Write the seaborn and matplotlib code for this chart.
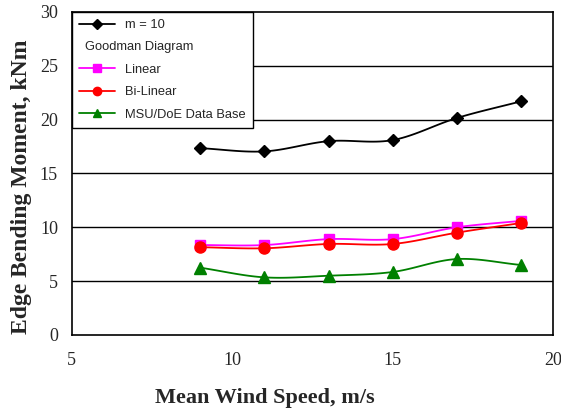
import numpy as np
import pandas as pd
import matplotlib
matplotlib.use("Agg")
import matplotlib.pyplot as plt
import seaborn as sns
from matplotlib.lines import Line2D

wind_speed = [9, 11, 13, 15, 17, 19]
m10 = [17.35, 17.05, 18.0, 18.1, 20.15, 21.7]
linear = [8.35, 8.35, 8.9, 8.9, 10.0, 10.6]
bilinear = [8.15, 8.05, 8.45, 8.45, 9.5, 10.4]
msu = [6.25, 5.35, 5.5, 5.85, 7.05, 6.5]

series_names = ["m = 10", "Linear", "Bi-Linear", "MSU/DoE Data Base"]
series_vals = [m10, linear, bilinear, msu]
colors = ["black", "#ff00ff", "#ff0000", "#008000"]
markers = ["D", "s", "o", "^"]
msizes = [6, 7, 8, 8]

sns.set_theme(style="white")


def catmull_rom(x, y, n=20):
    x = np.asarray(x, float)
    y = np.asarray(y, float)
    px = np.concatenate([[2 * x[0] - x[1]], x, [2 * x[-1] - x[-2]]])
    py = np.concatenate([[2 * y[0] - y[1]], y, [2 * y[-1] - y[-2]]])
    xs, ys = [], []
    for i in range(1, len(px) - 2):
        t = np.linspace(0, 1, n, endpoint=False)
        for P, out in ((px, xs), (py, ys)):
            p0, p1, p2, p3 = P[i - 1], P[i], P[i + 1], P[i + 2]
            out.extend(0.5 * ((2 * p1) + (-p0 + p2) * t
                              + (2 * p0 - 5 * p1 + 4 * p2 - p3) * t ** 2
                              + (-p0 + 3 * p1 - 3 * p2 + p3) * t ** 3))
    xs.append(x[-1]); ys.append(y[-1])
    return np.array(xs), np.array(ys)


fig = plt.figure(figsize=(5.61, 4.13), dpi=100)
ax = fig.add_axes([0.128, 0.189, 0.858, 0.782])

for name, vals, c, mk, ms in zip(series_names, series_vals, colors, markers, msizes):
    sx, sy = catmull_rom(wind_speed, vals)
    df_s = pd.DataFrame({"x": sx, "y": sy})
    sns.lineplot(data=df_s, x="x", y="y", ax=ax, color=c, lw=1.3, sort=False,
                 estimator=None, zorder=3)
    df = pd.DataFrame({"x": wind_speed, "y": vals})
    ax.plot(df["x"], df["y"], ls="none", marker=mk, color=c, ms=ms, zorder=4,
            markeredgecolor=c)

ax.set_xlim(5, 20)
ax.set_ylim(0, 30)
ax.set_xticks([5, 10, 15, 20])
ax.set_yticks([0, 5, 10, 15, 20, 25, 30])
for yv in [5, 10, 15, 20, 25]:
    ax.axhline(yv, color="black", lw=1.0, zorder=1)
for s in ax.spines.values():
    s.set_color("black")
    s.set_linewidth(1.2)
ax.tick_params(axis="both", direction="in", length=4, color="black",
               labelsize=13, width=1)
ax.tick_params(axis="x", pad=12)
ax.tick_params(axis="y", pad=10)
for lab in ax.get_xticklabels() + ax.get_yticklabels():
    lab.set_fontfamily("Liberation Serif")

ax.set_xlabel("Mean Wind Speed, m/s", fontfamily="Liberation Serif",
              fontweight="bold", fontsize=16)
ax.set_ylabel("Edge Bending Moment, kNm", fontfamily="Liberation Serif",
              fontweight="bold", fontsize=17)
ax.xaxis.set_label_coords(0.40, -0.165)
ax.yaxis.set_label_coords(-0.083, 0.46)

handles = [
    Line2D([], [], color="black", marker="D", ms=5, lw=1.3),
    Line2D([], [], color="none"),
    Line2D([], [], color=colors[1], marker="s", ms=6, lw=1.3),
    Line2D([], [], color=colors[2], marker="o", ms=6, lw=1.3),
    Line2D([], [], color=colors[3], marker="^", ms=6, lw=1.3),
]
labels = ["m = 10", "Goodman Diagram", "Linear", "Bi-Linear", "MSU/DoE Data Base"]
leg = ax.legend(handles, labels, loc="upper left", bbox_to_anchor=(0.0, 1.0),
                prop={"family": "Liberation Sans", "size": 9.3},
                frameon=True, fancybox=False, edgecolor="black",
                framealpha=1, borderaxespad=0.0, handlelength=2.8,
                handletextpad=0.8, labelspacing=0.8, borderpad=0.55)
leg.get_frame().set_linewidth(1.0)
leg.set_zorder(10)
texts = leg.get_texts()
texts[1].set_position((-40, 0))

fig.savefig("out.png", dpi=100)
